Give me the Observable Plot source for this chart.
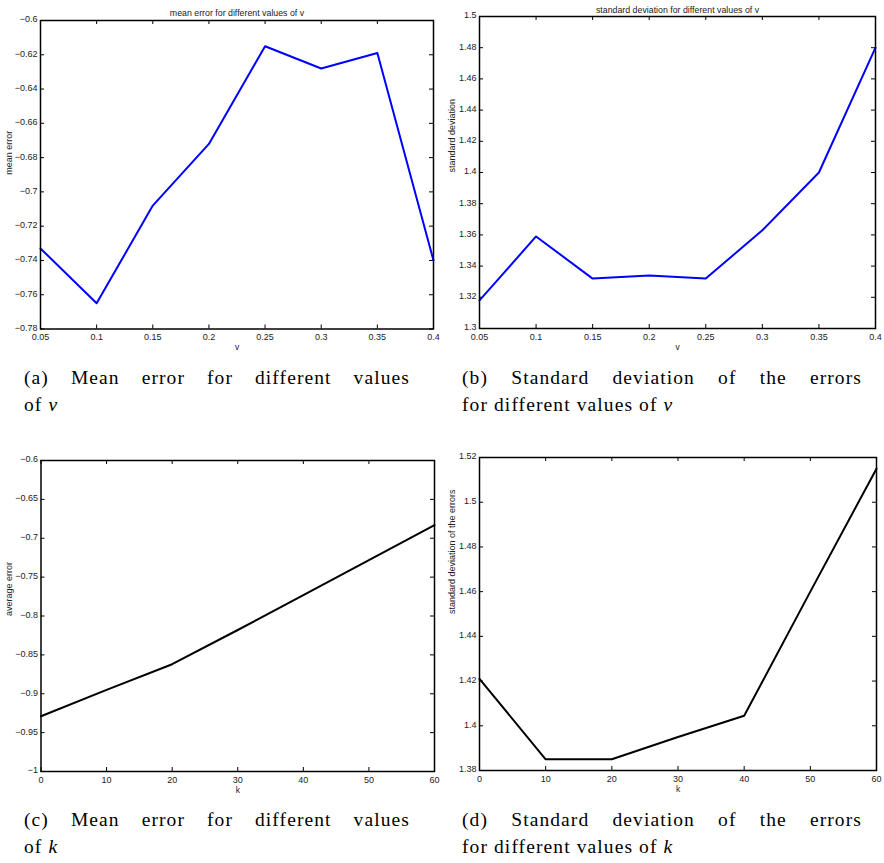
<!DOCTYPE html>
<html>
<head>
<meta charset="utf-8">
<script src="https://cdn.jsdelivr.net/npm/d3@7"></script>
<script src="https://cdn.jsdelivr.net/npm/@observablehq/plot@0.6"></script>
<style>
  html, body { margin: 0; padding: 0; background: #fff; }
  #root { position: relative; width: 884px; height: 863px; background: #fff; overflow: hidden; }
  .panel { position: absolute; }
  .cap { position: absolute; font-family: "Liberation Serif", "DejaVu Serif", serif; font-size: 19.5px; letter-spacing: 1.1px; line-height: 27px; color: #000; }
  .cap .l1 { text-align: justify; text-align-last: justify; white-space: nowrap; }
</style>
</head>
<body>
<div id="root"></div>
<script>
// ---- data ----
const nuValues = [0.05, 0.1, 0.15, 0.2, 0.25, 0.3, 0.35, 0.4];
const meanErrNu = [-0.733, -0.765, -0.708, -0.672, -0.615, -0.628, -0.619, -0.740];
const stdNu = [1.318, 1.359, 1.332, 1.334, 1.332, 1.363, 1.400, 1.480];

const kValues = [0, 10, 20, 30, 40, 50, 60];
const meanErrK = [-0.929, -0.895, -0.862, -0.818, -0.773, -0.728, -0.683];
const stdK = [1.421, 1.385, 1.385, 1.395, 1.4045, 1.460, 1.515];

// tick labels
const nuTicks = [0.05, 0.1, 0.15, 0.2, 0.25, 0.3, 0.35, 0.4];
const kTicks = [0, 10, 20, 30, 40, 50, 60];
const meanNuTicks = [-0.78, -0.76, -0.74, -0.72, -0.7, -0.68, -0.66, -0.64, -0.62, -0.6];
const stdNuTicks = [1.3, 1.32, 1.34, 1.36, 1.38, 1.4, 1.42, 1.44, 1.46, 1.48, 1.5];
const meanKTicks = [-1, -0.95, -0.9, -0.85, -0.8, -0.75, -0.7, -0.65, -0.6];
const stdKTicks = [1.38, 1.4, 1.42, 1.44, 1.46, 1.48, 1.5, 1.52];

const titles = ["mean error for different values of v", "standard deviation for different values of v", null, null];
const xLabels = ["v", "v", "k", "k"];
const yLabels = ["mean error", "standard deviation", "average error", "standard deviation of the errors"];

// ---- drawing ----
const fmt = d => String(+(+d).toFixed(6)).replace("-", "\u2212");
const root = document.getElementById("root");

function chart(opts) {
  const {xs, ys, xTicks, yTicks, color, title, xLabel, yLabel, box, m, titleDy, yLabelDx} = opts;
  const data = xs.map((x, i) => ({x, y: ys[i]}));
  const fw = box.width - m.left - m.right;
  const fh = box.height - m.top - m.bottom;
  const t = 4;
  const marks = [
    Plot.axisX(xTicks, {tickSize: 0, tickPadding: 5, tickFormat: fmt, fontSize: 9, label: null}),
    Plot.axisY(yTicks, {tickSize: 0, tickPadding: 3, tickFormat: fmt, fontSize: 9, label: null, dy: -1}),
    Plot.tickX(xTicks, {x: d => d, insetTop: fh - t, stroke: "#000", strokeWidth: 1}),
    Plot.tickX(xTicks, {x: d => d, insetBottom: fh - t, stroke: "#000", strokeWidth: 1}),
    Plot.tickY(yTicks, {y: d => d, insetRight: fw - t, stroke: "#000", strokeWidth: 1}),
    Plot.tickY(yTicks, {y: d => d, insetLeft: fw - t, stroke: "#000", strokeWidth: 1}),
    Plot.line(data, {x: "x", y: "y", stroke: color, strokeWidth: 2}),
    Plot.frame({stroke: "#000", strokeWidth: 1.5}),
    Plot.text([xLabel], {frameAnchor: "bottom", dy: 21, text: d => d, fontSize: 8.5, fill: "#222"}),
    Plot.text([yLabel], {frameAnchor: "left", dx: yLabelDx, rotate: -90, text: d => d, fontSize: 9, fill: "#222"})
  ];
  if (title) marks.push(Plot.text([title], {frameAnchor: "top", dy: titleDy, text: d => d, fontSize: 8.8, fill: "#222"}));
  const svg = Plot.plot({
    width: box.width, height: box.height,
    marginLeft: m.left, marginRight: m.right, marginTop: m.top, marginBottom: m.bottom,
    x: {type: "linear", domain: [xTicks[0], xTicks[xTicks.length - 1]], axis: null},
    y: {type: "linear", domain: [yTicks[0], yTicks[yTicks.length - 1]], axis: null},
    style: {fontFamily: "'Liberation Sans', Arial, Helvetica, sans-serif", fontSize: "9px", color: "#222", background: "transparent", overflow: "visible"},
    marks
  });
  const wrap = document.createElement("div");
  wrap.className = "panel";
  wrap.style.left = box.left + "px";
  wrap.style.top = box.top + "px";
  wrap.appendChild(svg);
  root.appendChild(wrap);
}

chart({xs: nuValues, ys: meanErrNu, xTicks: nuTicks, yTicks: meanNuTicks, color: "#0000ff",
  title: titles[0], xLabel: xLabels[0], yLabel: yLabels[0],
  box: {left: 0, top: 0, width: 440, height: 356}, m: {left: 40, right: 7, top: 20, bottom: 27.5},
  titleDy: -11, yLabelDx: -31});
chart({xs: nuValues, ys: stdNu, xTicks: nuTicks, yTicks: stdNuTicks, color: "#0000ff",
  title: titles[1], xLabel: xLabels[1], yLabel: yLabels[1],
  box: {left: 440, top: 0, width: 444, height: 356}, m: {left: 39, right: 9, top: 16, bottom: 28},
  titleDy: -10, yLabelDx: -27});
chart({xs: kValues, ys: meanErrK, xTicks: kTicks, yTicks: meanKTicks, color: "#000000",
  title: titles[2], xLabel: xLabels[2], yLabel: yLabels[2],
  box: {left: 0, top: 440, width: 440, height: 360}, m: {left: 40.5, right: 6, top: 20, bottom: 29},
  titleDy: -10, yLabelDx: -31.5});
chart({xs: kValues, ys: stdK, xTicks: kTicks, yTicks: stdKTicks, color: "#000000",
  title: titles[3], xLabel: xLabels[3], yLabel: yLabels[3],
  box: {left: 440, top: 440, width: 444, height: 360}, m: {left: 39, right: 8, top: 17, bottom: 30},
  titleDy: -10, yLabelDx: -27});

// captions
const captions = [
  {left: 24, top: 364, width: 386, l1: "(a) Mean error for different values", l2: "of <i>\u03bd</i>"},
  {left: 462, top: 364, width: 400, l1: "(b) Standard deviation of the errors", l2: "for different values of <i>\u03bd</i>"},
  {left: 24, top: 806, width: 386, l1: "(c) Mean error for different values", l2: "of <i>k</i>"},
  {left: 462, top: 806, width: 400, l1: "(d) Standard deviation of the errors", l2: "for different values of <i>k</i>"}
];
for (const c of captions) {
  const d = document.createElement("div");
  d.className = "cap";
  d.style.left = c.left + "px";
  d.style.top = c.top + "px";
  d.style.width = c.width + "px";
  d.innerHTML = `<div class="l1">${c.l1}</div><div class="l2">${c.l2}</div>`;
  root.appendChild(d);
}
</script>
</body>
</html>
